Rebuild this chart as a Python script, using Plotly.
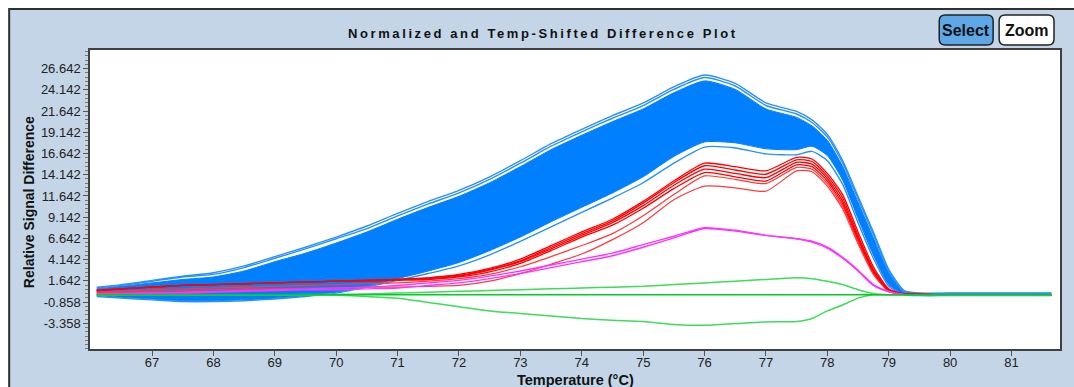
import plotly.graph_objects as go

# ---------------- data ----------------
temps = [66.1, 66.5, 67, 67.5, 68, 68.5, 69, 69.5, 70, 70.5, 71, 71.5, 72, 72.5, 73, 73.5,
         74, 74.5, 75, 75.5, 76, 76.5, 77, 77.5, 77.75, 78, 78.25, 78.5, 78.75, 79, 79.25,
         79.5, 80, 81, 81.65]

blue_top = [0.9, 1.2, 1.7, 2.2, 2.6, 3.4, 4.5, 5.6, 6.8, 8.1, 9.6, 11.0, 12.3, 13.9, 15.8, 17.8,
            19.5, 21.1, 22.6, 24.5, 25.9, 24.9, 22.6, 21.6, 20.6, 18.9, 15.8, 11.6, 7.4, 3.0, 0.5,
            0.2, 0.2, 0.2, 0.2]
blue_second = [0.8, 1.1, 1.6, 2.1, 2.4, 3.2, 4.3, 5.4, 6.6, 7.8, 9.3, 10.7, 12.0, 13.6, 15.5, 17.5,
               19.2, 20.8, 22.3, 24.2, 25.6, 24.6, 22.3, 21.3, 20.3, 18.6, 15.5, 11.3, 7.1, 2.8, 0.4,
               0.15, 0.15, 0.15, 0.15]
blue_band_hi = [0.7, 1.0, 1.4, 1.8, 2.1, 2.8, 3.9, 4.9, 6.1, 7.4, 8.9, 10.3, 11.6, 13.2, 15.1, 17.1,
                18.8, 20.4, 21.9, 23.8, 25.2, 24.2, 21.9, 20.9, 19.9, 18.2, 15.1, 10.9, 6.7, 2.6, 0.3,
                0.1, 0.1, 0.1, 0.1]
blue_band_lo = [-0.1, -0.3, -0.5, -0.7, -0.7, -0.6, -0.4, -0.1, 0.3, 1.0, 1.9, 2.8, 3.8, 5.2, 6.8, 8.6,
                10.3, 12.0, 13.9, 16.3, 18.0, 17.9, 17.2, 17.1, 17.5, 16.4, 13.5, 9.0, 4.7, 1.2, 0.0,
                -0.05, -0.05, -0.05, -0.05]
blue_bottom = [-0.2, -0.4, -0.6, -0.8, -0.8, -0.7, -0.5, -0.2, 0.2, 0.9, 1.7, 2.5, 3.4, 4.7, 6.3, 8.0,
               9.7, 11.4, 13.2, 15.5, 17.4, 17.3, 16.6, 16.5, 16.9, 15.8, 13.0, 8.5, 4.3, 1.0, 0.0,
               -0.1, -0.1, -0.1, -0.1]

red_1 = [0.5, 0.7, 0.9, 1.1, 1.2, 1.3, 1.4, 1.5, 1.6, 1.7, 1.8, 2.0, 2.4, 3.1, 4.2, 5.8,
         7.4, 8.9, 11.0, 13.4, 15.5, 15.1, 14.6, 16.2, 16.0, 14.3, 11.8, 7.4, 3.3, 0.7, 0.1,
         0.05, 0.0, 0.0, 0.0]
red_2 = [0.5, 0.7, 0.9, 1.1, 1.2, 1.3, 1.4, 1.5, 1.6, 1.7, 1.8, 2.0, 2.3, 3.0, 4.0, 5.6,
         7.2, 8.7, 10.8, 13.2, 15.2, 14.7, 14.2, 15.9, 15.7, 14.0, 11.4, 7.0, 3.0, 0.6, 0.1,
         0.05, 0.0, 0.0, 0.0]
red_3 = [0.5, 0.7, 0.9, 1.1, 1.2, 1.3, 1.4, 1.5, 1.6, 1.7, 1.8, 1.9, 2.2, 2.9, 3.9, 5.4,
         7.0, 8.5, 10.5, 12.9, 14.8, 14.3, 13.8, 15.6, 15.4, 13.7, 11.0, 6.7, 2.8, 0.5, 0.1,
         0.05, 0.0, 0.0, 0.0]
red_4 = [0.5, 0.7, 0.9, 1.1, 1.2, 1.3, 1.4, 1.5, 1.6, 1.6, 1.7, 1.8, 2.1, 2.7, 3.7, 5.2,
         6.8, 8.2, 10.2, 12.5, 14.4, 13.9, 13.4, 15.3, 15.1, 13.4, 10.7, 6.5, 2.7, 0.5, 0.1,
         0.05, 0.0, 0.0, 0.0]
red_5 = [0.3, 0.4, 0.6, 0.7, 0.8, 0.9, 1.0, 1.1, 1.2, 1.3, 1.4, 1.6, 1.9, 2.4, 3.3, 4.5,
         5.8, 7.2, 9.3, 11.8, 14.0, 13.6, 13.1, 15.0, 14.8, 13.1, 10.4, 6.2, 2.5, 0.4, 0.1,
         0.05, 0.0, 0.0, 0.0]
red_6 = [0.2, 0.3, 0.4, 0.5, 0.6, 0.7, 0.7, 0.8, 0.8, 0.9, 0.9, 1.0, 1.1, 1.6, 2.5, 3.6,
         4.8, 6.5, 8.5, 11.2, 12.8, 12.6, 12.2, 14.6, 14.5, 12.8, 10.1, 6.0, 2.4, 0.4, 0.1,
         0.05, 0.0, 0.0, 0.0]

magenta_1 = [0.1, 0.15, 0.2, 0.3, 0.4, 0.5, 0.6, 0.7, 0.8, 0.9, 1.1, 1.4, 1.7, 2.2, 2.8, 3.5,
             4.2, 4.9, 5.9, 6.9, 7.9, 7.6, 7.0, 6.6, 6.3, 5.6, 4.4, 2.9, 1.2, 0.4, 0.05,
             0.0, 0.0, 0.0, 0.0]
magenta_2 = [0.1, 0.1, 0.2, 0.2, 0.3, 0.4, 0.5, 0.6, 0.6, 0.7, 0.8, 1.1, 1.4, 1.9, 2.5, 3.2,
             3.9, 4.6, 5.6, 6.7, 7.8, 7.5, 7.0, 6.6, 6.2, 5.5, 4.3, 2.8, 1.1, 0.35, 0.05,
             0.0, 0.0, 0.0, 0.0]

green_up = [0.0, 0.0, 0.0, 0.0, 0.0, 0.0, 0.0, 0.02, 0.05, 0.1, 0.2, 0.3, 0.4, 0.5, 0.6, 0.7,
            0.8, 0.9, 1.0, 1.2, 1.4, 1.6, 1.8, 2.0, 1.9, 1.6, 1.2, 0.6, 0.15, 0.0, 0.0,
            0.0, 0.0, 0.0, 0.0]
green_flat = [0.0] * len(temps)
green_down = [0.0, 0.0, 0.0, 0.0, 0.0, 0.0, 0.0, 0.0, -0.05, -0.2, -0.4, -0.9, -1.4, -1.9, -2.2, -2.5,
              -2.8, -3.0, -3.15, -3.5, -3.6, -3.4, -3.2, -3.15, -2.8, -1.9, -1.2, -0.4, 0.0, 0.0, 0.0,
              0.0, 0.0, 0.0, 0.0]

x_tick_vals = [67, 68, 69, 70, 71, 72, 73, 74, 75, 76, 77, 78, 79, 80, 81]
y_tick_vals = [-3.358, -0.858, 1.642, 4.142, 6.642, 9.142, 11.642, 14.142, 16.642, 19.142,
               21.642, 24.142, 26.642]
y_tick_text = ["%.3f" % v for v in y_tick_vals]

title_text = "Normalized and Temp-Shifted Difference Plot"
x_title = "Temperature (°C)"
y_title = "Relative Signal Difference"

# ---------------- layout helpers ----------------
W, H = 1074, 387
L, R, T, B = 90, 1062, 50, 349


def px(x):
    return (x - L) / (R - L)


def py(y):
    return (B - y) / (B - T)


def rrect(x0, y0, x1, y1, r):
    pts = [
        ("M", [(x0 + r, y0)]), ("L", [(x1 - r, y0)]), ("Q", [(x1, y0), (x1, y0 + r)]),
        ("L", [(x1, y1 - r)]), ("Q", [(x1, y1), (x1 - r, y1)]), ("L", [(x0 + r, y1)]),
        ("Q", [(x0, y1), (x0, y1 - r)]), ("L", [(x0, y0 + r)]), ("Q", [(x0, y0), (x0 + r, y0)]),
    ]
    s = ""
    for cmd, ps in pts:
        s += cmd + " " + " ".join("%.5f,%.5f" % (px(a), py(b)) for a, b in ps) + " "
    return s + "Z"


FONT = "Liberation Sans, Arial, sans-serif"

fig = go.Figure()


def add_line(y, color, width, fill=None, fillcolor=None):
    fig.add_trace(go.Scatter(
        x=temps, y=y, mode="lines",
        line=dict(color=color, width=width, shape="spline", smoothing=0.6),
        fill=fill, fillcolor=fillcolor, hoverinfo="skip", showlegend=False))


BLUE = "#0080ff"
BLUE_L = "#2b8ffa"
add_line(blue_band_lo, BLUE, 1)
add_line(blue_band_hi, BLUE, 1, fill="tonexty", fillcolor=BLUE)
add_line(blue_top, BLUE_L, 1.4)
add_line(blue_second, BLUE_L, 1.4)
add_line(blue_bottom, BLUE_L, 1.4)

for rc in [red_6, red_5]:
    add_line(rc, "#ff3a3a", 1.2)
for rc in [red_4, red_3, red_2, red_1]:
    add_line(rc, "#ff0000", 1.3)

add_line(magenta_2, "#ff33ff", 1.4)
add_line(magenta_1, "#ff33ff", 1.4)

add_line(green_up, "#3ddc5a", 1.5)
add_line(green_down, "#3ddc5a", 1.5)
add_line(green_flat, "#00cc22", 1.5)

shapes = [
    dict(type="rect", xref="paper", yref="paper", x0=px(9), x1=px(1100), y0=py(420), y1=py(9),
         fillcolor="#c3d5e6", line=dict(color="#303030", width=2), layer="below"),
    dict(type="rect", xref="paper", yref="paper", x0=0, x1=1, y0=0, y1=1,
         fillcolor="white", line=dict(width=0), layer="below"),
    dict(type="path", xref="paper", yref="paper", path=rrect(941, 15, 995, 45, 6),
         fillcolor="#5ea8e8", line=dict(color="#222222", width=1.5), layer="above"),
    dict(type="path", xref="paper", yref="paper", path=rrect(1001, 15, 1056, 45, 6),
         fillcolor="white", line=dict(color="#222222", width=1.5), layer="above"),
]

annotations = [
    dict(text='<span style="letter-spacing:2.6px">' + title_text + '</span>', xref="paper", yref="paper",
         x=px(543.5), y=py(33), xanchor="center", yanchor="middle", showarrow=False,
         font=dict(family=FONT, size=13, color="#111111", weight="bold")),
    dict(text="Select", xref="paper", yref="paper", x=px(968), y=py(30.5), xanchor="center",
         yanchor="middle", showarrow=False, font=dict(family=FONT, size=16, color="#111111", weight="bold")),
    dict(text="Zoom", xref="paper", yref="paper", x=px(1028.5), y=py(30.5), xanchor="center",
         yanchor="middle", showarrow=False, font=dict(family=FONT, size=16, color="#111111", weight="bold")),
    dict(text=x_title, xref="paper", yref="paper", x=px(577), y=py(379.5), xanchor="center",
         yanchor="middle", showarrow=False, font=dict(family=FONT, size=14.5, color="#111111", weight="bold")),
    dict(text=y_title, xref="paper", yref="paper", x=px(29), y=py(202), xanchor="center",
         yanchor="middle", textangle=-90, showarrow=False,
         font=dict(family=FONT, size=14, color="#111111", weight="bold")),
]

fig.update_layout(
    width=W, height=H,
    margin=dict(l=L, r=W - R, t=T, b=H - B, pad=0),
    paper_bgcolor="white", plot_bgcolor="white",
    shapes=shapes, annotations=annotations,
    showlegend=False,
    xaxis=dict(range=[65.99, 81.79], tickmode="array", tickvals=x_tick_vals,
               ticks="outside", ticklen=5, tickcolor="#555555", showgrid=False, zeroline=False,
               showline=True, mirror=True, linecolor="#404040", linewidth=1.5,
               ticklabelstandoff=-4,
               tickfont=dict(family=FONT, size=13, color="#222222")),
    yaxis=dict(range=[-6.39, 28.84], tickmode="array", tickvals=y_tick_vals, ticktext=y_tick_text,
               ticks="outside", ticklen=5, tickcolor="#555555", showgrid=False, zeroline=False,
               showline=True, mirror=True, linecolor="#404040", linewidth=1.5,
               tickfont=dict(family=FONT, size=13, color="#222222"),
               minor=dict(ticks="outside", ticklen=3, tickcolor="#777777", tick0=-3.358, dtick=0.5,
                          showgrid=False)),
)

fig.write_html("out.html")
